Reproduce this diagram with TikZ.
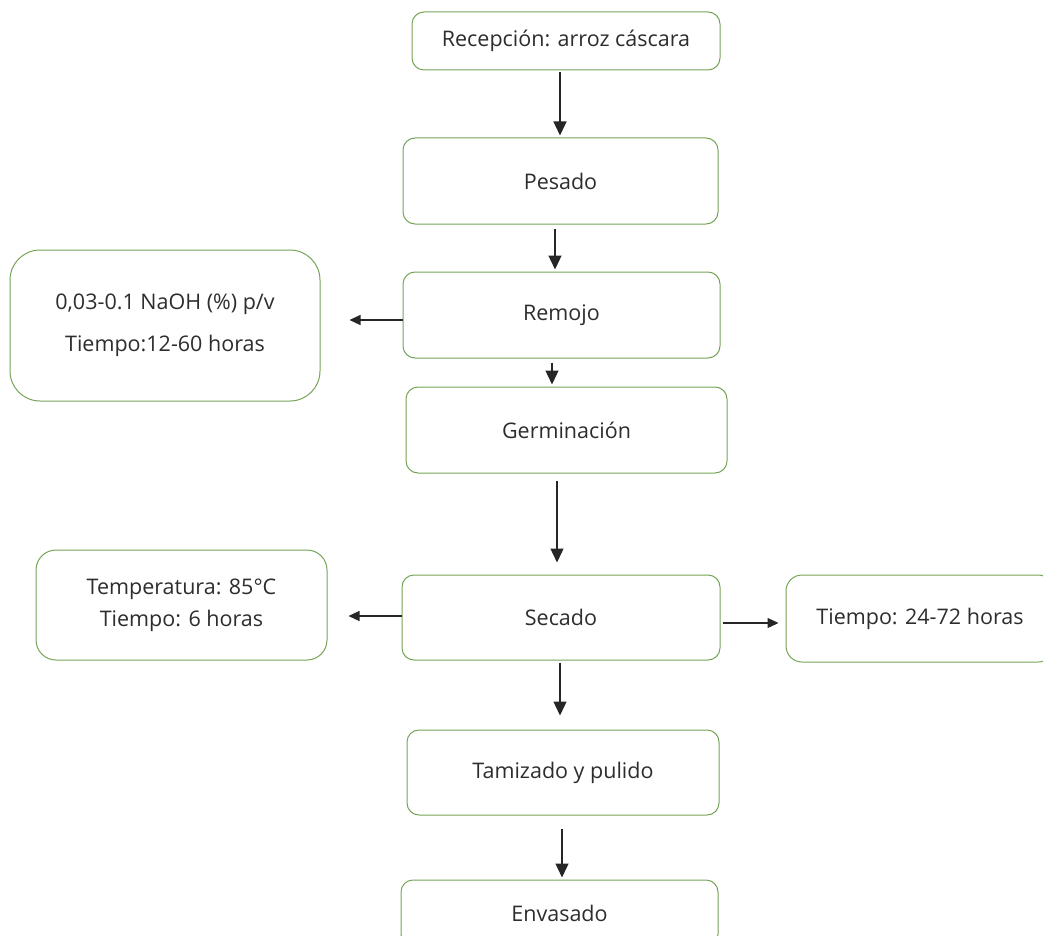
\documentclass[tikz,border=0pt]{standalone}
\usepackage{fontspec}
\setmainfont{Open Sans}
\usetikzlibrary{arrows.meta}

\definecolor{verde}{RGB}{116,164,86}
\definecolor{texto}{RGB}{45,45,45}

\tikzset{
  paso/.style={draw=verde, line width=1pt, rounded corners=12pt, inner sep=0pt,
    align=center, text=texto, font=\fontsize{21.5}{25}\selectfont},
  flecha/.style={draw=black!85, line width=1.3pt, -{Triangle[width=13pt,length=14pt]}},
  flechita/.style={draw=black!85, line width=1.1pt, -{Triangle[width=10pt,length=11pt]}}
}

\begin{document}
\begin{tikzpicture}[x=1pt,y=-1pt]
\useasboundingbox (0,0) rectangle (1043,936);

% pasos del proceso
\node[paso, minimum width=308pt, minimum height=58pt] (rec) at (566,41) {Recepción: arroz cáscara};
\node[paso, minimum width=315pt, minimum height=86pt] (pes) at (560.5,181) {Pesado};
\node[paso, minimum width=317pt, minimum height=86pt] (rem) at (561.5,315) {Remojo};
\node[paso, minimum width=321pt, minimum height=86pt] (ger) at (566.5,430) {Germinación};
\node[paso, minimum width=318pt, minimum height=85pt] (sec) at (561,617.5) {Secado};
\node[paso, minimum width=312pt, minimum height=85pt] (tam) at (563,772.5) {Tamizado y pulido};
\node[paso, minimum width=317pt, minimum height=66pt] (env) at (559.5,913) {Envasado};

% condiciones
\node[paso, rounded corners=30pt, minimum width=310pt, minimum height=151pt,
  font=\fontsize{21.5}{42}\selectfont] (cond1) at (165,325.5) {0,03-0.1 NaOH (\%) p/v\\Tiempo:12-60 horas};
\node[paso, rounded corners=20pt, minimum width=291pt, minimum height=110pt,
  font=\fontsize{21.5}{32}\selectfont] (cond2) at (181.5,605) {Temperatura: 85°C\\Tiempo: 6 horas};
\node[paso, rounded corners=16pt, minimum width=268pt, minimum height=87pt] (tiem) at (920,618.5) {Tiempo: 24-72 horas};

% flechas
\draw[flecha, shorten <=2pt, shorten >=2pt] ([xshift=-6pt]rec.south) -- ([xshift=-6pt]rec.south |- pes.north);
\draw[flecha, shorten <=4pt, shorten >=2pt] ([xshift=-5.5pt]pes.south) -- ([xshift=-5.5pt]pes.south |- rem.north);
\draw[flecha, shorten <=4pt, shorten >=2pt] ([xshift=-9.5pt]rem.south) -- ([xshift=-9.5pt]rem.south |- ger.north);
\draw[flecha, shorten <=7pt, shorten >=12pt] ([xshift=-9.5pt]ger.south) -- ([xshift=-9.5pt]ger.south |- sec.north);
\draw[flecha, shorten <=2pt, shorten >=14pt] ([xshift=-1pt]sec.south) -- ([xshift=-1pt]sec.south |- tam.north);
\draw[flecha, shorten <=13pt, shorten >=2pt] ([xshift=-1pt]tam.south) -- ([xshift=-1pt]tam.south |- env.north);

\coordinate (a) at ([yshift=-5pt]rem.west);
\coordinate (b) at ([yshift=1.5pt]sec.west);
\coordinate (c) at ([yshift=-5.5pt]sec.east);
\draw[flechita, shorten >=29pt] (a) -- (a -| cond1.east);
\draw[flechita, shorten >=21pt] (b) -- (b -| cond2.east);
\draw[flechita, shorten <=2pt, shorten >=7pt] (c) -- (c -| tiem.west);
\end{tikzpicture}
\end{document}
